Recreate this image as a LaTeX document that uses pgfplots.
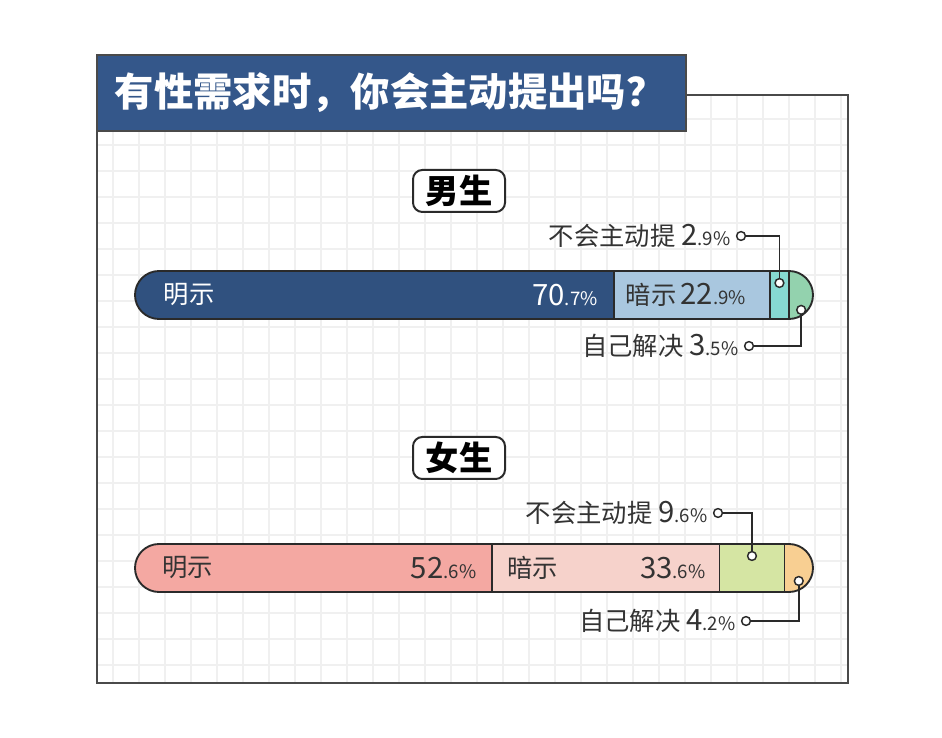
\documentclass[border=0pt]{standalone}
\usepackage{pgfplots}
\pgfplotsset{compat=1.18}
\usepackage{fontspec}
\setmainfont{Noto Sans CJK SC}

\definecolor{titleblue}{HTML}{34578A}
\definecolor{gridc}{HTML}{F0F0F0}
\definecolor{framec}{HTML}{4A4A4A}
\definecolor{edge}{HTML}{2A2A2A}
\definecolor{txt}{HTML}{333333}
\definecolor{m1}{HTML}{30517F}
\definecolor{m2}{HTML}{A9C7DF}
\definecolor{m3}{HTML}{86D9D2}
\definecolor{m4}{HTML}{93D2AE}
\definecolor{f1}{HTML}{F4A8A2}
\definecolor{f2}{HTML}{F6D2CB}
\definecolor{f3}{HTML}{D5E5A3}
\definecolor{f4}{HTML}{F8CF92}

% big integer part, small decimals
\newcommand\pct[2]{{\fontsize{22}{22}\selectfont #1}{\fontsize{14}{14}\selectfont .#2\%}}
\newcommand\lab{\fontsize{19}{19}\selectfont}

\pgfplotsset{
  pill/.style={xbar stacked, hide axis, scale only axis,
    width=508.5pt, height=36pt, xmin=0, xmax=100, ymin=0.5, ymax=1.5,
    bar width=1, anchor=south west},
  seg/.style={fill=#1, draw=edge, line width=1.4pt},
}

\begin{document}
\begin{tikzpicture}[x=0.75pt, y=0.75pt]
\path (0,0) rectangle (942,738);

% grid background
\foreach \gx in {113,139,...,841} \draw[gridc, line width=0.8pt] (\gx,56) -- (\gx,642);
\foreach \gy in {73,99,...,619} \draw[gridc, line width=0.8pt] (98,\gy) -- (847,\gy);
\draw[framec, line width=1.3pt] (97,55) rectangle (848,643);

% title
\draw[fill=titleblue, draw=framec, line width=1pt] (97,607) rectangle (686,683);
\node[text=white, font=\fontsize{29.5}{29.5}\selectfont\bfseries] at (390,645) {有性需求时，你会主动提出吗？};

% group tags
\draw[edge, fill=white, line width=1.5pt, rounded corners=7pt] (413,526) rectangle (505,568);
\node[font=\fontsize{25}{25}\selectfont\bfseries] at (459,547) {男生};
\draw[edge, fill=white, line width=1.5pt, rounded corners=7pt] (413,259) rectangle (505,301);
\node[font=\fontsize{25}{25}\selectfont\bfseries] at (459,280) {女生};

% male
\begin{scope}
\clip[rounded corners=18pt] (135,419) rectangle (813,467);
\begin{axis}[pill, at={(101.25pt,314.25pt)}]
  \addplot[seg=m1] coordinates {(70.7,1)};
  \addplot[seg=m2] coordinates {(22.9,1)};
  \addplot[seg=m3] coordinates {(2.9,1)};
  \addplot[seg=m4] coordinates {(3.5,1)};
  \coordinate (m0) at (axis cs:0,1);
  \coordinate (mA) at (axis cs:70.7,1);
  \coordinate (ma) at (axis cs:95.05,1.25);
  \coordinate (mb) at (axis cs:98.25,0.69);
\end{axis}
\end{scope}
\draw[edge, line width=1.4pt, rounded corners=18pt] (135,419) rectangle (813,467);
\node[anchor=west, text=white, font=\lab] at (m0) [xshift=18pt] {明示};
\node[anchor=east, text=white] at (mA) [xshift=-9pt] {\pct{70}{7}};
\node[anchor=west, text=txt, font=\lab] at (mA) [xshift=5pt] {暗示\,\pct{22}{9}};

% female
\begin{scope}
\clip[rounded corners=18pt] (135,146) rectangle (813,194);
\begin{axis}[pill, at={(101.25pt,109.5pt)}]
  \addplot[seg=f1] coordinates {(52.6,1)};
  \addplot[seg=f2] coordinates {(33.6,1)};
  \addplot[seg=f3] coordinates {(9.6,1)};
  \addplot[seg=f4] coordinates {(4.2,1)};
  \coordinate (f0) at (axis cs:0,1);
  \coordinate (fA) at (axis cs:52.6,1);
  \coordinate (fB) at (axis cs:86.2,1);
  \coordinate (fa) at (axis cs:91,1.25);
  \coordinate (fb) at (axis cs:97.9,0.73);
\end{axis}
\end{scope}
\draw[edge, line width=1.4pt, rounded corners=18pt] (135,146) rectangle (813,194);
\node[anchor=west, text=txt, font=\lab] at (f0) [xshift=17pt] {明示};
\node[anchor=east, text=txt] at (fA) [xshift=-8pt] {\pct{52}{6}};
\node[anchor=west, text=txt, font=\lab] at (fA) [xshift=8pt] {暗示};
\node[anchor=east, text=txt] at (fB) [xshift=-7pt] {\pct{33}{6}};

% leader lines
\tikzset{lead/.style={edge, line width=1.1pt}, dot/.style={edge, fill=white, line width=1.1pt}}
\draw[lead] (ma) |- (741,502);
\draw[lead] (mb) |- (749,392);
\draw[lead] (fa) |- (718,225);
\draw[lead] (fb) |- (746,117);
\foreach \p in {(ma),(mb),(fa),(fb),(741,502),(749,392),(718,225),(746,117)}
  \draw[dot] \p circle (3.3pt);

% outside labels
\node[anchor=east, text=txt, font=\lab] at (735,502) {不会主动提\ \pct{2}{9}};
\node[anchor=east, text=txt, font=\lab] at (743,392) {自己解决\ \pct{3}{5}};
\node[anchor=east, text=txt, font=\lab] at (712,225) {不会主动提\ \pct{9}{6}};
\node[anchor=east, text=txt, font=\lab] at (740,117) {自己解决\ \pct{4}{2}};
\end{tikzpicture}
\end{document}
